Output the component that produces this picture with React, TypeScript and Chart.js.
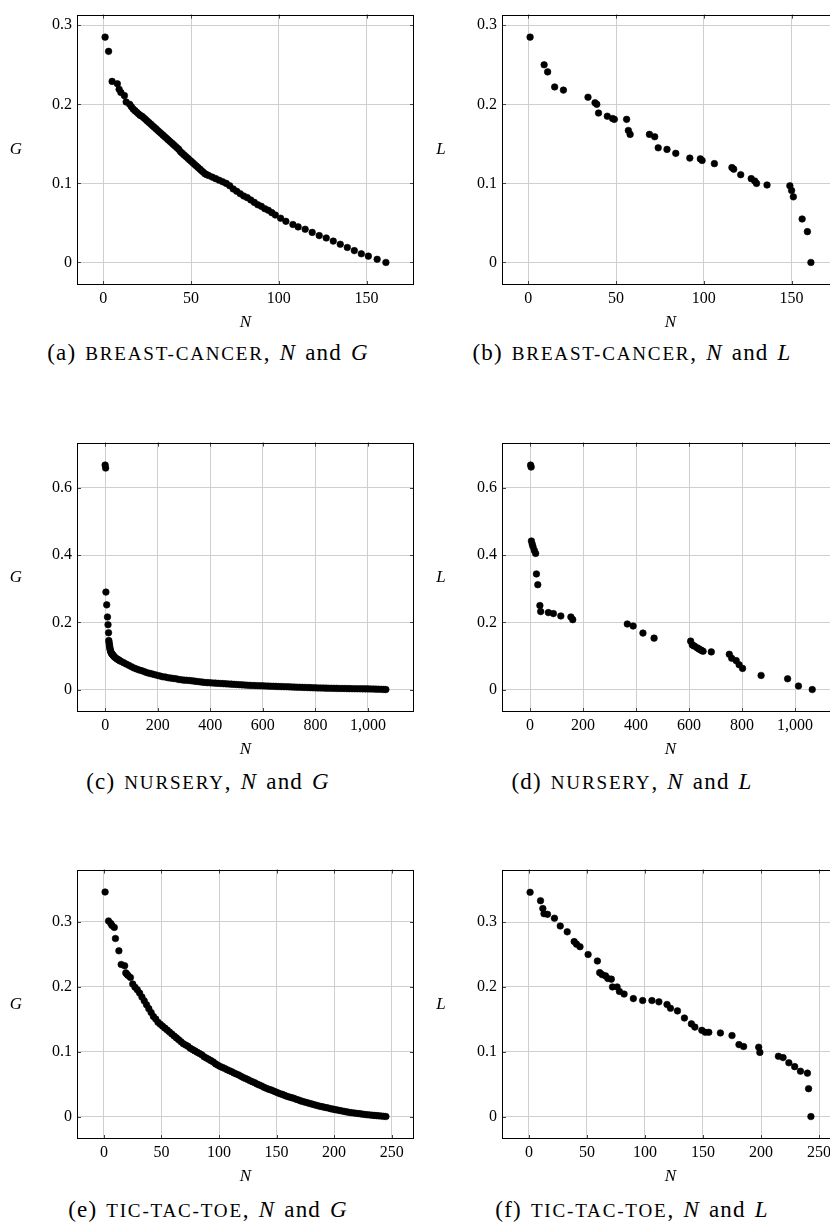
import React, { useEffect, useRef } from "react";
import { Chart, registerables } from "chart.js";

Chart.register(...registerables);

// ---------- data ----------
// (a) breast-cancer, N and G
const breastGN = [1, 3, 5, 8, 9, 10, 12, 13, 15, 16, 17, 18, 19, 20, 21, 22, 23, 24, 25, 26, 27, 28, 29, 30, 31, 32, 33, 34, 35, 36, 37, 38, 39, 40, 41, 42, 43, 44, 45, 46, 47, 48, 49, 50, 51, 52, 53, 54, 55, 56, 57, 58, 59, 60, 62, 64, 66, 68, 70, 72, 74, 76, 78, 80, 82, 84, 86, 88, 90, 92, 94, 96, 98, 101, 104, 108, 111, 115, 119, 123, 127, 131, 135, 139, 143, 147, 151, 156, 161];
const breastG = [0.285, 0.267, 0.229, 0.226, 0.219, 0.215, 0.211, 0.203, 0.2, 0.197, 0.194, 0.192, 0.19, 0.188, 0.186, 0.185, 0.183, 0.181, 0.179, 0.177, 0.175, 0.173, 0.171, 0.169, 0.167, 0.165, 0.163, 0.161, 0.159, 0.157, 0.155, 0.153, 0.151, 0.149, 0.147, 0.145, 0.143, 0.14, 0.138, 0.136, 0.134, 0.132, 0.13, 0.128, 0.126, 0.124, 0.122, 0.12, 0.118, 0.116, 0.114, 0.112, 0.111, 0.11, 0.108, 0.106, 0.104, 0.102, 0.1, 0.097, 0.093, 0.09, 0.087, 0.084, 0.082, 0.079, 0.076, 0.073, 0.071, 0.068, 0.066, 0.063, 0.06, 0.056, 0.052, 0.048, 0.045, 0.042, 0.038, 0.034, 0.031, 0.027, 0.023, 0.019, 0.015, 0.011, 0.008, 0.004, 0];

// (b) breast-cancer, N and L
const breastLN = [1, 9, 11, 15, 20, 34, 38, 39, 40, 45, 48, 49, 56, 57, 58, 69, 72, 74, 79, 84, 92, 98, 99, 106, 116, 117, 121, 127, 129, 130, 136, 149, 150, 151, 156, 159, 161];
const breastL = [0.285, 0.25, 0.241, 0.222, 0.218, 0.209, 0.202, 0.2, 0.189, 0.185, 0.182, 0.181, 0.181, 0.167, 0.162, 0.162, 0.159, 0.145, 0.143, 0.138, 0.132, 0.131, 0.129, 0.125, 0.12, 0.118, 0.111, 0.106, 0.103, 0.1, 0.098, 0.097, 0.091, 0.083, 0.055, 0.039, 0];

// (c) nursery, N and G
const nurseryGN = [0, 2, 3, 6, 9, 11, 13, 14, 15, 16, 17, 18, 19, 20, 22, 24, 26, 28, 30, 33, 36, 40, 45, 50, 55, 60, 70, 80, 90, 100, 110, 120, 130, 140, 150, 160, 170, 180, 190, 200, 210, 220, 230, 240, 250, 260, 270, 280, 290,
  300, 310, 320, 330, 340, 350, 360, 370, 380, 390, 400, 410, 420, 430, 440, 450, 460, 470, 480, 490, 500, 510, 520, 530, 540, 550, 560, 570, 580, 590, 600, 610, 620, 630, 640, 650, 660, 670, 680, 690, 700, 710, 720, 730, 740, 750, 760, 770, 780, 790, 800, 810, 820, 830, 840, 850, 860, 870, 880, 890, 900, 910, 920, 930, 940, 950, 960, 970, 980, 990, 1000, 1010, 1020, 1030, 1040, 1050, 1060, 1068];
const nurseryG = [0.668, 0.659, 0.29, 0.252, 0.216, 0.193, 0.169, 0.146, 0.14, 0.134, 0.129, 0.124, 0.12, 0.116, 0.111, 0.108, 0.106, 0.104, 0.102, 0.099, 0.097, 0.094, 0.091, 0.089, 0.086, 0.084, 0.08, 0.076, 0.072, 0.068, 0.064, 0.061, 0.058, 0.056, 0.053, 0.05, 0.048, 0.046, 0.044, 0.042, 0.04, 0.038, 0.037, 0.035, 0.034, 0.033, 0.032, 0.03, 0.029,
  0.028, 0.0275, 0.027, 0.026, 0.025, 0.024, 0.023, 0.022, 0.021, 0.0205, 0.02, 0.0195, 0.019, 0.0185, 0.018, 0.0175, 0.017, 0.0165, 0.016, 0.0155, 0.015, 0.0145, 0.014, 0.0135, 0.013, 0.0125, 0.012, 0.0118, 0.0115, 0.0112, 0.011, 0.0106, 0.0103, 0.01, 0.0097, 0.0093, 0.009, 0.0088, 0.0085, 0.0083, 0.008, 0.0076, 0.0073, 0.007, 0.0067, 0.0065, 0.0062, 0.0059, 0.0056, 0.0053, 0.005, 0.0048, 0.0046, 0.0044, 0.0042, 0.004, 0.0038, 0.0036, 0.0035, 0.0033, 0.0032, 0.003, 0.0029, 0.0027, 0.0026, 0.0024, 0.0023, 0.0022, 0.0021, 0.002, 0.0019, 0.0017, 0.0015, 0.0012, 0.001, 0.0007, 0.0004, 0];

// (d) nursery, N and L
const nurseryLN = [2, 4, 5, 8, 11, 16, 21, 24, 29, 37, 40, 69, 88, 116, 154, 161, 367, 389, 426, 468, 606, 612, 616, 621, 631, 637, 643, 648, 653, 684, 752, 761, 778, 789, 802, 872, 972, 1013, 1065];
const nurseryL = [0.668, 0.662, 0.442, 0.433, 0.425, 0.414, 0.405, 0.344, 0.312, 0.25, 0.232, 0.229, 0.226, 0.219, 0.216, 0.208, 0.195, 0.189, 0.168, 0.153, 0.144, 0.133, 0.131, 0.129, 0.124, 0.121, 0.118, 0.116, 0.114, 0.112, 0.105, 0.093, 0.086, 0.074, 0.063, 0.042, 0.032, 0.0105, 0];

// (e) tic-tac-toe, N and G
const ticGN = [1, 4, 6, 7, 9, 10, 13, 15, 18, 19, 20, 21, 23, 25, 27, 29, 31, 33, 35, 37, 39, 41, 43, 45, 47, 49, 51, 53, 55, 57, 59, 61, 63, 65, 67, 69, 71, 73, 75, 77, 79, 81, 83, 85, 87, 89, 91, 93, 95, 97, 99, 101, 103, 105, 107, 109, 111, 113, 115, 117, 119, 121, 123, 125, 127, 129, 131, 133, 135, 137, 139, 141, 143, 145, 147, 149, 151, 153, 155, 157, 159, 161, 163, 165, 167, 169, 171, 173, 175, 177, 179, 181, 183, 185, 187, 189, 191, 193, 195, 197, 199, 201, 203, 205, 207, 209, 211, 213, 215, 217, 219, 221, 223, 225, 227, 229, 231, 233, 235, 237, 239, 241, 243, 245];
const ticG = [0.3455, 0.301, 0.297, 0.294, 0.291, 0.274, 0.255, 0.234, 0.232, 0.221, 0.219, 0.217, 0.214, 0.204, 0.199, 0.195, 0.19, 0.184, 0.178, 0.172, 0.166, 0.16, 0.154, 0.15, 0.145, 0.142, 0.139, 0.136, 0.133, 0.13, 0.127, 0.124, 0.121, 0.118, 0.115, 0.112, 0.11, 0.108, 0.105, 0.103, 0.101, 0.099, 0.097, 0.095, 0.092, 0.09, 0.088, 0.086, 0.084, 0.081, 0.079, 0.077, 0.0755, 0.074, 0.072, 0.0705, 0.069, 0.067, 0.0655, 0.064, 0.062, 0.06, 0.0585, 0.057, 0.055, 0.0535, 0.052, 0.05, 0.0485, 0.047, 0.045, 0.0435, 0.042, 0.041, 0.0395, 0.038, 0.0365, 0.035, 0.034, 0.0325, 0.031, 0.03, 0.029, 0.028, 0.0265, 0.0255, 0.024, 0.023, 0.022, 0.021, 0.02, 0.019, 0.018, 0.017, 0.016, 0.0153, 0.0145, 0.0137, 0.013, 0.012, 0.0113, 0.0106, 0.0099, 0.0092, 0.0085, 0.0078, 0.0071, 0.0064, 0.0059, 0.0055, 0.005, 0.0045, 0.0041, 0.0036, 0.0031, 0.0027, 0.0024, 0.002, 0.0017, 0.0013, 0.001, 0.0007, 0.0003, 0];

// (f) tic-tac-toe, N and L
const ticLN = [1, 10, 12, 13, 16, 22, 27, 33, 39, 41, 44, 51, 59, 61, 63, 66, 68, 71, 72, 76, 78, 82, 90, 98, 106, 112, 119, 122, 128, 134, 140, 143, 149, 152, 155, 165, 175, 181, 185, 198, 199, 215, 219, 224, 229, 234, 240, 241, 243];
const ticL = [0.346, 0.333, 0.321, 0.313, 0.312, 0.306, 0.294, 0.285, 0.27, 0.266, 0.262, 0.25, 0.24, 0.222, 0.219, 0.217, 0.213, 0.212, 0.2, 0.2, 0.193, 0.189, 0.182, 0.179, 0.179, 0.177, 0.173, 0.167, 0.163, 0.152, 0.143, 0.138, 0.133, 0.13, 0.13, 0.129, 0.125, 0.111, 0.108, 0.107, 0.099, 0.093, 0.091, 0.083, 0.077, 0.07, 0.067, 0.043, 0];

// ticks
const xTicksBreast = [0, 50, 100, 150];
const xLabelsBreast = ["0", "50", "100", "150"];
const yTicksBreast = [0, 0.1, 0.2, 0.3];
const yLabelsBreast = ["0", "0.1", "0.2", "0.3"];
const xTicksNursery = [0, 200, 400, 600, 800, 1000];
const xLabelsNursery = ["0", "200", "400", "600", "800", "1,000"];
const yTicksNursery = [0, 0.2, 0.4, 0.6];
const yLabelsNursery = ["0", "0.2", "0.4", "0.6"];
const xTicksTic = [0, 50, 100, 150, 200, 250];
const xLabelsTic = ["0", "50", "100", "150", "200", "250"];
const yTicksTic = [0, 0.1, 0.2, 0.3];
const yLabelsTic = ["0", "0.1", "0.2", "0.3"];

// captions
const captionLetters = ["(a)", "(b)", "(c)", "(d)", "(e)", "(f)"];
const datasetNames = ["breast-cancer", "breast-cancer", "nursery", "nursery", "tic-tac-toe", "tic-tac-toe"];
const yNames = ["G", "L", "G", "L", "G", "L"];

// ---------- styling ----------
const FONT = '"Liberation Serif", "Times New Roman", serif';
const GRID = "#cfcfcf";

const framePlugin = {
  id: "frame",
  afterDraw(chart: any, _args: any, opts: any) {
    const { ctx, chartArea: a } = chart;
    const xs = chart.scales.x;
    const ys = chart.scales.y;
    ctx.save();
    ctx.lineWidth = 1;
    ctx.strokeStyle = "#444";
    const L = 4;
    ctx.beginPath();
    xs.ticks.forEach((t: any) => {
      const p = Math.round(xs.getPixelForValue(t.value)) + 0.5;
      ctx.moveTo(p, a.bottom);
      ctx.lineTo(p, a.bottom - L);
      ctx.moveTo(p, a.top);
      ctx.lineTo(p, a.top + L);
    });
    ys.ticks.forEach((t: any) => {
      const p = Math.round(ys.getPixelForValue(t.value)) + 0.5;
      ctx.moveTo(a.left, p);
      ctx.lineTo(a.left + L, p);
      ctx.moveTo(a.right, p);
      ctx.lineTo(a.right - L, p);
    });
    ctx.stroke();
    ctx.strokeStyle = "#000";
    ctx.strokeRect(Math.round(a.left) + 0.5, Math.round(a.top) + 0.5, Math.round(a.width) - 1, Math.round(a.height) - 1);
    ctx.fillStyle = "#000";
    ctx.font = `italic 17px ${FONT}`;
    ctx.textAlign = "center";
    ctx.textBaseline = "middle";
    ctx.fillText(opts.xTitle, (a.left + a.right) / 2, a.bottom + 38);
    ctx.fillText(opts.yTitle, a.left - 61, (a.top + a.bottom) / 2);
    ctx.restore();
  },
};

type Spec = {
  xs: number[];
  ys: number[];
  xMin: number;
  xMax: number;
  yMin: number;
  yMax: number;
  xTicks: number[];
  xLabels: string[];
  yTicks: number[];
  yLabels: string[];
  yTitle: string;
  left: number;
  top: number;
  width: number;
  height: number;
  yAxisWidth: number;
  padRight: number;
};

function Panel({ spec }: { spec: Spec }) {
  const ref = useRef<HTMLCanvasElement>(null);
  useEffect(() => {
    const tickFont = { family: FONT, size: 16 };
    const chart = new Chart(ref.current as HTMLCanvasElement, {
      type: "scatter",
      data: {
        datasets: [
          {
            data: spec.xs.map((x, i) => ({ x, y: spec.ys[i] })),
            backgroundColor: "#000",
            borderColor: "#000",
            pointRadius: 3.3,
            pointBorderWidth: 0.6,
            pointHoverRadius: 3.3,
          },
        ],
      },
      options: {
        responsive: false,
        animation: false,
        devicePixelRatio: 1,
        events: [],
        layout: { padding: { top: 5, right: spec.padRight, left: 0, bottom: 0 } },
        plugins: {
          legend: { display: false },
          tooltip: { enabled: false },
          frame: { xTitle: "N", yTitle: spec.yTitle },
        } as any,
        scales: {
          x: {
            type: "linear",
            position: "bottom",
            min: spec.xMin,
            max: spec.xMax,
            grid: { color: GRID, lineWidth: 1, drawTicks: false },
            border: { display: false },
            ticks: {
              padding: 4,
              color: "#000",
              font: tickFont,
              autoSkip: false,
              maxRotation: 0,
              callback: (v: any) => {
                const i = spec.xTicks.indexOf(Number(v));
                return i >= 0 ? spec.xLabels[i] : "";
              },
            },
            afterBuildTicks: (s: any) => {
              s.ticks = spec.xTicks.map((v) => ({ value: v }));
            },
            afterFit: (s: any) => {
              s.height = 50;
            },
          },
          y: {
            type: "linear",
            min: spec.yMin,
            max: spec.yMax,
            grid: { color: GRID, lineWidth: 1, drawTicks: false },
            border: { display: false },
            ticks: {
              padding: 5,
              color: "#000",
              font: tickFont,
              autoSkip: false,
              callback: (v: any) => {
                const i = spec.yTicks.indexOf(Number(v));
                return i >= 0 ? spec.yLabels[i] : "";
              },
            },
            afterBuildTicks: (s: any) => {
              s.ticks = spec.yTicks.map((v) => ({ value: v }));
            },
            afterFit: (s: any) => {
              s.width = spec.yAxisWidth;
            },
          },
        },
      } as any,
      plugins: [framePlugin as any],
    });
    return () => chart.destroy();
  }, [spec]);
  return (
    <canvas
      ref={ref}
      width={spec.width}
      height={spec.height}
      style={{ position: "absolute", left: spec.left, top: spec.top, width: spec.width, height: spec.height }}
    />
  );
}

const rowTops = [0, 428, 855];
const captionY = [353, 782, 1210];
const LEFT = { left: 0, width: 420, yAxisWidth: 77, padRight: 6 };
const RIGHT = { left: 420, width: 430, yAxisWidth: 82, padRight: 11 };

const specs: Spec[] = [
  { xs: breastGN, ys: breastG, xMin: -15, xMax: 177, yMin: -0.0285, yMax: 0.3135, xTicks: xTicksBreast, xLabels: xLabelsBreast, yTicks: yTicksBreast, yLabels: yLabelsBreast, yTitle: "G", top: rowTops[0], height: 335, ...LEFT },
  { xs: breastLN, ys: breastL, xMin: -15, xMax: 177, yMin: -0.0285, yMax: 0.3135, xTicks: xTicksBreast, xLabels: xLabelsBreast, yTicks: yTicksBreast, yLabels: yLabelsBreast, yTitle: "L", top: rowTops[0], height: 335, ...RIGHT },
  { xs: nurseryGN, ys: nurseryG, xMin: -107, xMax: 1175, yMin: -0.0668, yMax: 0.7348, xTicks: xTicksNursery, xLabels: xLabelsNursery, yTicks: yTicksNursery, yLabels: yLabelsNursery, yTitle: "G", top: rowTops[1], height: 334, ...LEFT },
  { xs: nurseryLN, ys: nurseryL, xMin: -106, xMax: 1166, yMin: -0.0668, yMax: 0.7348, xTicks: xTicksNursery, xLabels: xLabelsNursery, yTicks: yTicksNursery, yLabels: yLabelsNursery, yTitle: "L", top: rowTops[1], height: 334, ...RIGHT },
  { xs: ticGN, ys: ticG, xMin: -23.4, xMax: 269.4, yMin: -0.0346, yMax: 0.38, xTicks: xTicksTic, xLabels: xLabelsTic, yTicks: yTicksTic, yLabels: yLabelsTic, yTitle: "G", top: rowTops[2], height: 334, ...LEFT },
  { xs: ticLN, ys: ticL, xMin: -23.2, xMax: 267.2, yMin: -0.0346, yMax: 0.381, xTicks: xTicksTic, xLabels: xLabelsTic, yTicks: yTicksTic, yLabels: yLabelsTic, yTitle: "L", top: rowTops[2], height: 334, ...RIGHT },
];

function Caption({ idx }: { idx: number }) {
  const cx = idx % 2 === 0 ? 208 : 632;
  const cy = captionY[Math.floor(idx / 2)];
  return (
    <div
      style={{
        position: "absolute",
        left: cx - 210,
        top: cy - 15,
        width: 420,
        height: 30,
        lineHeight: "30px",
        textAlign: "center",
        fontFamily: FONT,
        fontSize: 23,
        letterSpacing: "1.2px",
        wordSpacing: "2px",
        color: "#000",
        whiteSpace: "nowrap",
      }}
    >
      {captionLetters[idx]}{" "}
      <span style={{ textTransform: "uppercase", fontSize: "0.83em", letterSpacing: "1.8px" }}>{datasetNames[idx]}</span>
      , <i>N</i> and <i>{yNames[idx]}</i>
    </div>
  );
}

export default function App() {
  return (
    <div
      style={{
        position: "absolute",
        left: 0,
        top: 0,
        width: 830,
        height: 1228,
        overflow: "hidden",
        background: "#fff",
      }}
    >
      {specs.map((s, i) => (
        <Panel key={i} spec={s} />
      ))}
      {specs.map((_, i) => (
        <Caption key={"c" + i} idx={i} />
      ))}
    </div>
  );
}
